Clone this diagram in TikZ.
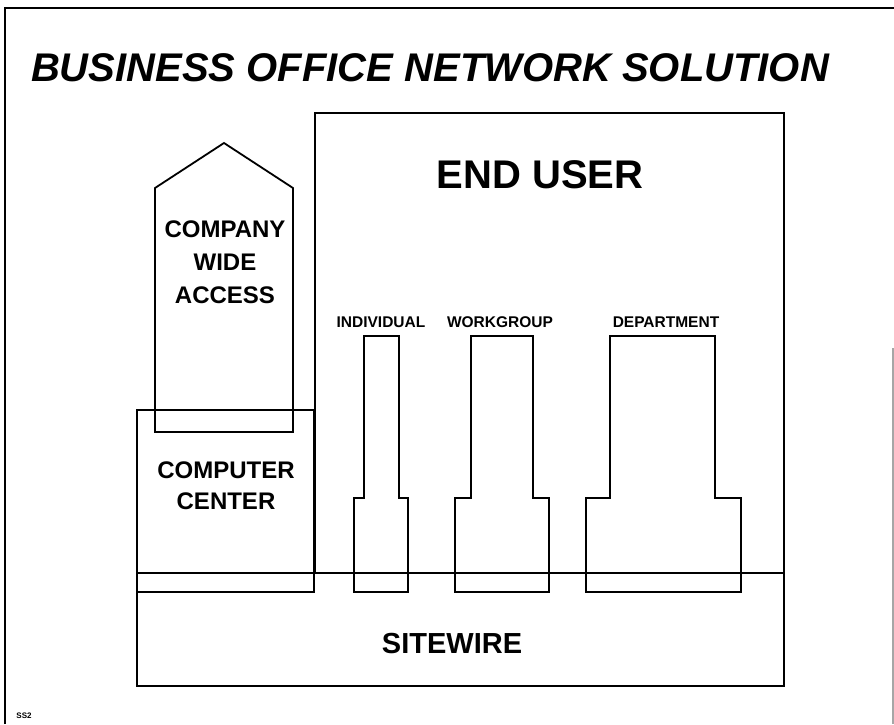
\documentclass[tikz,border=0pt]{standalone}
\usepackage{fontspec}
\setmainfont{Liberation Sans}
\begin{document}
\begin{tikzpicture}[x=1pt,y=-1pt,
  shape line/.style={draw=black,line width=1.8pt,line join=miter},
  lbl/.style={font=\bfseries,inner sep=0pt,align=center},
  big/.style={lbl,font=\fontsize{24}{31}\selectfont\bfseries},
  tiny/.style={lbl,font=\fontsize{15.5}{15.5}\selectfont\bfseries}]
\useasboundingbox (0,0) rectangle (894,724);
% page border
\draw[line width=1.6pt] (5,724) -- (5,8) -- (894,8);
\draw[line width=1.2pt,gray!70] (893,348) -- (893,724);
% title
\node[lbl,font=\fontsize{40}{40}\selectfont\bfseries\itshape,anchor=base] (title) at (430,81) {BUSINESS OFFICE NETWORK SOLUTION};
% end user box
\draw[shape line] (315,573) -- (315,113) -- (784,113) -- (784,573);
\node[lbl,font=\fontsize{40}{40}\selectfont\bfseries] (enduser) at (540,175) {END USER};
% sitewire
\draw[shape line] (137,573) rectangle (784,686);
\node[lbl,font=\fontsize{29}{29}\selectfont\bfseries] (sitewire) at (452,644) {SITEWIRE};
% computer center
\draw[shape line] (137,410) rectangle (314,592);
\node[big] (cc) at (226,486) {COMPUTER\\CENTER};
% company wide access
\draw[shape line] (155,432) -- (155,188) -- (224,143) -- (293,188) -- (293,432) -- cycle;
\node[big,font=\fontsize{24}{33}\selectfont\bfseries] (cwa) at (225,262) {COMPANY\\WIDE\\ACCESS};
% individual
\draw[shape line] (354,592) -- (354,498) -- (364,498) -- (364,336) -- (399,336) -- (399,498) -- (408,498) -- (408,592) -- cycle;
\node[tiny,anchor=base] (ind) at (381,327) {INDIVIDUAL};
% workgroup
\draw[shape line] (455,592) -- (455,498) -- (471,498) -- (471,336) -- (533,336) -- (533,498) -- (549,498) -- (549,592) -- cycle;
\node[tiny,anchor=base] (wg) at (500,327) {WORKGROUP};
% department
\draw[shape line] (586,592) -- (586,498) -- (610,498) -- (610,336) -- (715,336) -- (715,498) -- (741,498) -- (741,592) -- cycle;
\node[tiny,anchor=base] (dep) at (666,327) {DEPARTMENT};
% footer
\node[lbl,font=\fontsize{8}{8}\selectfont\bfseries] (ss) at (24,716) {SS2};
\end{tikzpicture}
\end{document}
